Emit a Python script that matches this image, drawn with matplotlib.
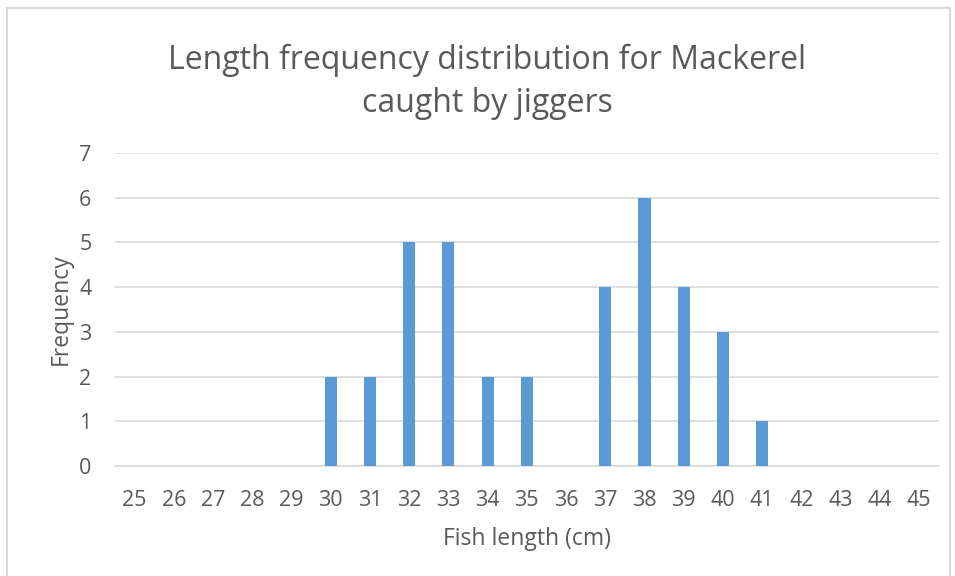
import numpy as np
import matplotlib.pyplot as plt
from matplotlib.patches import Rectangle

plt.rcParams["font.family"] = ["Open Sans", "DejaVu Sans"]

# fish length classes (cm) and how many mackerel fell into each
lengths = list(range(25, 46))
counts = [0, 0, 0, 0, 0, 2, 2, 5, 5, 2, 2, 0, 4, 6, 4, 3, 1, 0, 0, 0, 0]

TEXT = "#595959"
GRID = "#D9D9D9"
BAR = "#5B9BD5"

fig = plt.figure(figsize=(9.55, 5.76), dpi=100, facecolor="white")

# chart area outline
fig.patches.append(
    Rectangle(
        (7 / 955, -0.02), 943 / 955, 1.02 - 8 / 576,
        transform=fig.transFigure,
        facecolor="none", edgecolor=GRID, linewidth=1.5
    )
)

ax = fig.add_axes([115 / 955, 110 / 576, 823.6 / 955, 313 / 576])

x = np.arange(len(lengths))
ax.bar(x, counts, width=0.31, color=BAR, zorder=3)

ax.set_xlim(-0.5, len(lengths) - 0.5)
ax.set_ylim(0, 7)
ax.set_xticks(x)
ax.set_xticklabels([str(v) for v in lengths])
ax.set_yticks(range(0, 8))

ax.grid(axis="y", color=GRID, linewidth=1.2, zorder=0)
ax.set_axisbelow(True)
for side in ["top", "right", "left"]:
    ax.spines[side].set_visible(False)
ax.spines["bottom"].set_color(GRID)
ax.spines["bottom"].set_linewidth(1.2)

ax.tick_params(axis="both", length=0, labelsize=15.5, colors=TEXT)
ax.tick_params(axis="x", pad=17)
ax.tick_params(axis="y", pad=17)

ax.set_xlabel("Fish length (cm)", fontsize=16.5, color=TEXT, labelpad=12)
ax.set_ylabel("Frequency", fontsize=16.5, color=TEXT, labelpad=4.5)

fig.text(
    0.51, 0.858,
    "Length frequency distribution for Mackerel\ncaught by jiggers",
    ha="center", va="center",
    fontsize=23, color=TEXT, linespacing=1.38
)

fig.savefig("out.png", dpi=100, facecolor="white")
plt.close(fig)
